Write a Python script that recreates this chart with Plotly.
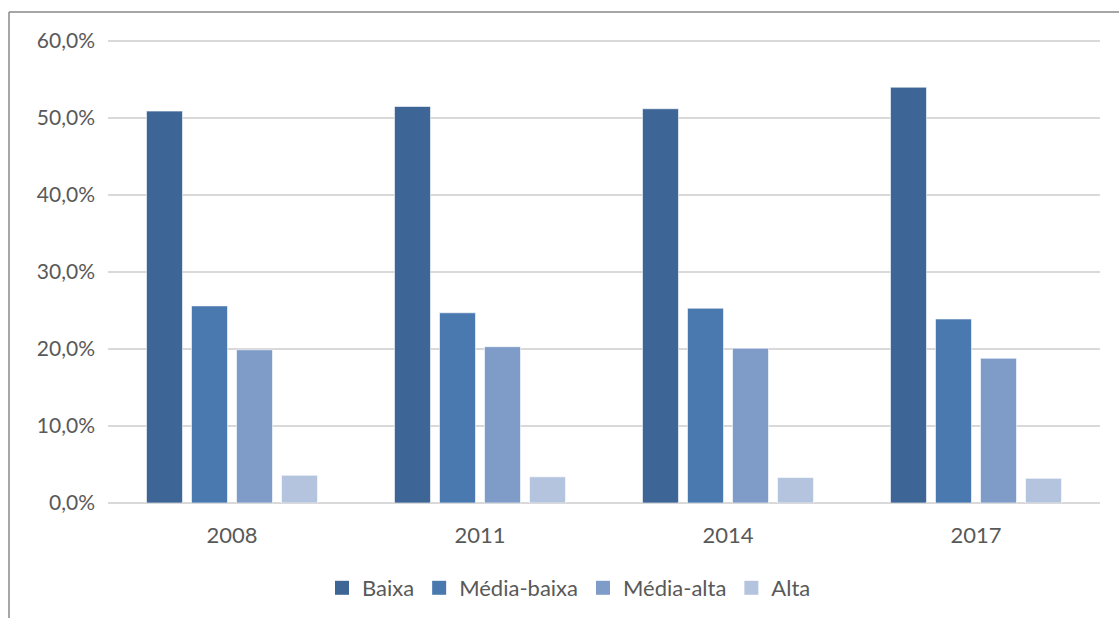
import plotly.graph_objects as go

years = ["2008", "2011", "2014", "2017"]
baixa = [50.9, 51.5, 51.2, 54.0]
media_baixa = [25.6, 24.7, 25.3, 23.9]
media_alta = [19.9, 20.3, 20.1, 18.8]
alta = [3.6, 3.4, 3.3, 3.2]
y_ticks = [0, 10, 20, 30, 40, 50, 60]
y_tick_labels = ["0,0%", "10,0%", "20,0%", "30,0%", "40,0%", "50,0%", "60,0%"]

series = [
    ("Baixa", baixa, "#3d6696"),
    ("Média-baixa", media_baixa, "#4a79b0"),
    ("Média-alta", media_alta, "#7f9cc8"),
    ("Alta", alta, "#b4c4df"),
]

FONT = "Lato"
TXT = "#595959"

W, H = 1119, 618
L, R, T, B = 108, 19, 39, 115
PW, PH = W - L - R, H - T - B

fig = go.Figure()
for name, vals, col in series:
    fig.add_trace(go.Bar(
        x=years, y=vals, name=name, showlegend=False,
        marker=dict(color=col, line=dict(color="white", width=0.6)),
    ))
# legend entries with larger square swatches
for name, vals, col in series:
    fig.add_trace(go.Scatter(
        x=[None], y=[None], name=name, mode="markers",
        marker=dict(symbol="square", size=14, color=col),
    ))

def px_x(px):
    return (px - L) / PW

def px_y(py):
    return (H - B - py) / PH

fig.update_layout(
    width=W, height=H,
    margin=dict(l=L, r=R, t=T, b=B),
    paper_bgcolor="white", plot_bgcolor="white",
    barmode="group", bargap=0.274, bargroupgap=0.2,
    font=dict(family=FONT, size=21, color=TXT),
    showlegend=True,
    legend=dict(
        orientation="h", xref="container", yref="container",
        x=569 / W, xanchor="center", y=1 - 588 / H, yanchor="middle",
        font=dict(family=FONT, size=22, color=TXT),
        itemwidth=30, traceorder="normal",
    ),
    xaxis=dict(
        showgrid=False, showline=False, ticks="",
        tickfont=dict(family=FONT, size=22, color=TXT),
        ticklabelstandoff=17,
        automargin=False,
    ),
    yaxis=dict(
        range=[0, 60 * PH / 462], tickmode="array",
        tickvals=y_ticks, ticktext=y_tick_labels,
        showgrid=True, gridcolor="#d9d9d9", gridwidth=1.5,
        zeroline=True, zerolinecolor="#d9d9d9", zerolinewidth=1.5,
        showline=False, ticks="",
        tickfont=dict(family=FONT, size=21, color=TXT),
        ticklabelstandoff=12,
        automargin=False,
    ),
    shapes=[
        dict(type="line", xref="paper", yref="paper",
             x0=px_x(9), x1=px_x(1125),
             y0=px_y(12), y1=px_y(12),
             line=dict(color="#898989", width=1.5)),
        dict(type="line", xref="paper", yref="paper",
             x0=px_x(9), x1=px_x(9),
             y0=px_y(12), y1=px_y(640),
             line=dict(color="#898989", width=1.5)),
    ],
)

fig.write_html("out.html")
